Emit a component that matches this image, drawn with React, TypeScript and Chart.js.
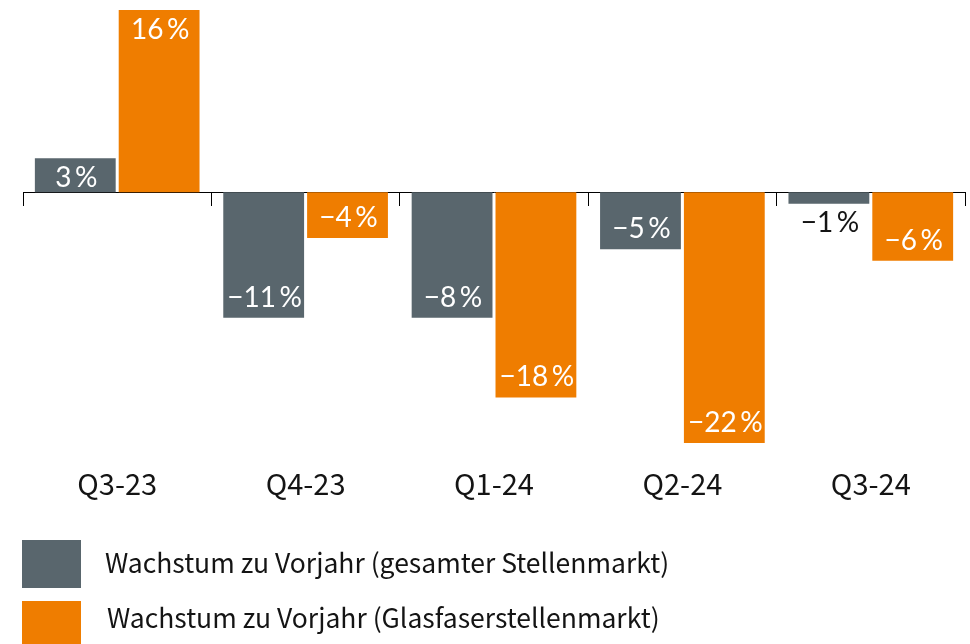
import { useEffect, useRef } from 'react';
import { Chart, registerables } from 'chart.js';

Chart.register(...registerables);

const categories = ['Q3-23', 'Q4-23', 'Q1-24', 'Q2-24', 'Q3-24'];
// bar lengths as drawn in the picture
const gesamtValues = [3, -11, -11, -5, -1];
const glasValues = [16, -4, -18, -22, -6];
// value labels as printed in the picture
const gesamtLabels = [3, -11, -8, -5, -1];
const glasLabels = [16, -4, -18, -22, -6];
const seriesNames = [
  'Wachstum zu Vorjahr (gesamter Stellenmarkt)',
  'Wachstum zu Vorjahr (Glasfaserstellenmarkt)',
];
const yMin = -22;
const yMax = 16;

const GREY = '#59666d';
const ORANGE = '#ef7d00';
const TEXT = '#141414';
const SANS = '"Noto Sans CJK JP", "Noto Sans", sans-serif';

const fmt = (v: number) => (v < 0 ? '\u2212' + Math.abs(v) : String(v)) + '\u2009%';

const valueLabelsPlugin = {
  id: 'valueLabels',
  afterDatasetsDraw(chart: any) {
    const ctx = chart.ctx;
    const labelSets = [gesamtLabels, glasLabels];
    ctx.save();
    ctx.font = '28px Lato, "DejaVu Sans", sans-serif';
    ctx.textAlign = 'center';
    ctx.textBaseline = 'middle';
    chart.data.datasets.forEach((ds: any, di: number) => {
      const meta = chart.getDatasetMeta(di);
      meta.data.forEach((bar: any, i: number) => {
        const v = ds.data[i] as number;
        const h = Math.abs(bar.base - bar.y);
        const sign = v >= 0 ? 1 : -1;
        let y: number;
        let color: string;
        if (h >= 30) {
          y = bar.y + sign * 20;
          color = '#ffffff';
        } else {
          y = bar.y - sign * 19;
          color = TEXT;
        }
        ctx.fillStyle = color;
        ctx.fillText(fmt(labelSets[di][i]), bar.x + 1, y);
      });
    });
    ctx.restore();
  },
};

const legendPlugin = {
  id: 'blockLegend',
  afterDraw(chart: any) {
    const ctx = chart.ctx;
    const top = chart.scales.x.bottom + 37;
    ctx.save();
    ctx.font = '26.5px ' + SANS;
    ctx.textAlign = 'left';
    ctx.textBaseline = 'alphabetic';
    chart.data.datasets.forEach((ds: any, i: number) => {
      ctx.fillStyle = ds.backgroundColor;
      ctx.fillRect(22, top + i * 61, 59, 48);
      ctx.fillStyle = TEXT;
      ctx.fillText(ds.label, 105 + i * 2, top + 33 + i * 55);
    });
    ctx.restore();
  },
};

export default function App() {
  const canvasRef = useRef<HTMLCanvasElement | null>(null);

  useEffect(() => {
    if (!canvasRef.current) return;
    const chart = new Chart(canvasRef.current, {
      type: 'bar',
      data: {
        labels: categories,
        datasets: [
          {
            label: seriesNames[0],
            data: gesamtValues,
            backgroundColor: GREY,
            borderWidth: 0,
            categoryPercentage: 0.89,
            barPercentage: 0.964,
          },
          {
            label: seriesNames[1],
            data: glasValues,
            backgroundColor: ORANGE,
            borderWidth: 0,
            categoryPercentage: 0.89,
            barPercentage: 0.964,
          },
        ],
      },
      options: {
        animation: false,
        responsive: true,
        maintainAspectRatio: false,
        layout: { padding: { left: 23, right: 5, top: 10, bottom: 141 } },
        plugins: {
          legend: { display: false },
          tooltip: { enabled: false },
        },
        scales: {
          x: {
            type: 'category',
            position: 'bottom',
            grid: { display: false, drawTicks: false },
            border: { display: false },
            ticks: {
              color: TEXT,
              font: { family: SANS, size: 29 },
              padding: 24,
              maxRotation: 0,
              autoSkip: false,
            },
            afterFit: (s: any) => {
              s.height = 60;
            },
          },
          x0: {
            type: 'category',
            labels: categories,
            position: { y: 0 },
            offset: true,
            grid: {
              display: true,
              drawOnChartArea: false,
              drawTicks: true,
              tickLength: 13,
              color: '#000000',
              lineWidth: 1,
              offset: true,
            },
            border: { display: true, color: '#000000', width: 1 },
            ticks: { display: false },
          },
          y: {
            display: false,
            min: yMin,
            max: yMax,
          },
        },
      } as any,
      plugins: [valueLabelsPlugin, legendPlugin],
    });
    return () => chart.destroy();
  }, []);

  return (
    <div
      style={{
        position: 'absolute',
        left: 0,
        top: 0,
        width: 970,
        height: 644,
        background: '#ffffff',
      }}
    >
      <canvas ref={canvasRef} />
    </div>
  );
}
